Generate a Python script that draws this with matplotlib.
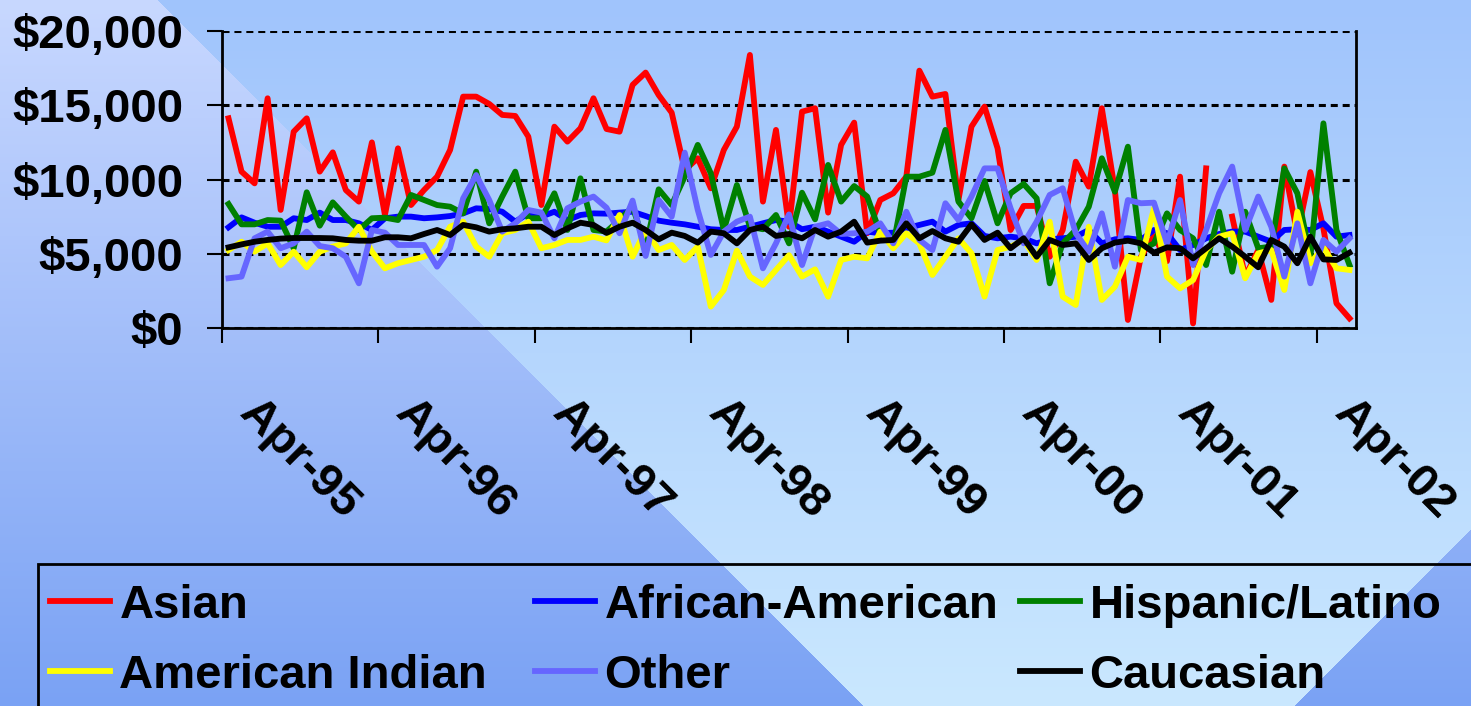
import numpy as np
import matplotlib
matplotlib.use("Agg")
import matplotlib.pyplot as plt
from matplotlib.lines import Line2D
from matplotlib.patches import Rectangle
from matplotlib.transforms import offset_copy

plt.rcParams['font.family'] = ['Liberation Sans', 'DejaVu Sans']
plt.rcParams['font.weight'] = 'bold'

nan = np.nan

# monthly values, Apr-95 .. Jun-02 (87 months)
asian = [14120, 10530, 9740, 15470, 7950, 13220, 14120, 10530, 11830, 9290, 8510, 12500, 7610, 12100, 8280,
         9290, 10190, 11990, 15580, 15580, 15090, 14350, 14280, 12890, 8280, 13560, 12550, 13450, 15470, 13400,
         13220, 16370, 17200, 15690, 14500, 10640, 11430, 9410, 11990, 13560, 18390, 8510, 13340, 6820,
         14570, 14800, 7770, 12330, 13830, 6380, 8620, 9070, 10190, 17330, 15580, 15760, 8620, 13560, 14910,
         12100, 6600, 8220, 8220, 4800, 6600, 11200, 9520, 14800, 9290, 540, 4800, 6200, 4500,
         10190, 310, 10750, nan, 7500, 3460, 5250, 1890, 10870, 6300, 10500, 6700, 1660, 650]

african_american = [6780, 7450, 7090, 6820, 6820, 7390, 7270, 7770, 7270, 7270, 7050, 6600, 7390, 7500, 7500,
                    7390, 7450, 7540, 7720, 8060, 8010, 7830, 7160, 7720, 7500, 7830, 7270, 7610, 7720, 7700,
                    7770, 7830, 7540, 7230, 7090, 6980, 6820, 6650, 6600, 6600, 6820, 7050, 7270, 7160,
                    6650, 6820, 6490, 6150, 5810, 6490, 6380, 6420, 6710, 6940, 7160, 6490, 6940, 7050, 6200,
                    6040, 6150, 6040, 5700, 5970, 6040, 6150, 6600, 5700, 5970, 6040, 5930, 6600, 6380,
                    5250, 5590, 6040, 6330, 6490, 6490, 6150, 5810, 6600, 6650, 6600, 7050, 6150, 6260]

hispanic = [8350, 6980, 6980, 7270, 7230, 5370, 9140, 6890, 8460, 7500, 6600, 7390, 7430, 7270, 8960,
            8620, 8280, 8170, 7720, 10530, 7050, 8850, 10530, 7390, 7390, 9070, 6600, 10080, 6600, 6500,
            7270, 8170, 5480, 9340, 8280, 10190, 12330, 10420, 6600, 9630, 6820, 6650, 7610, 5700,
            9110, 7320, 10980, 8510, 9560, 8850, 6380, 5590, 10190, 10190, 10460, 13340, 8510, 7390, 9900,
            7050, 9070, 9700, 8730, 3010, 5700, 6600, 8170, 11430, 9180, 12210, 5250, 5700, 7720,
            6600, 6040, 4240, 7830, 3790, 7830, 5370, 5480, 10750, 9070, 4800, 13780, 6600, 4240]

american_indian = [5250, 5810, 5140, 5700, 4240, 5140, 4090, 5140, 5480, 5700, 6820, 5140, 4020, 4360, 4580,
                   4800, 5250, 6820, 7160, 5480, 4800, 6380, 6600, 7160, 5370, 5590, 5930, 5930, 6150, 5900,
                   7610, 4800, 6600, 5250, 5590, 4580, 5480, 1440, 2560, 5210, 3460, 2900, 3910, 4900,
                   3460, 3950, 2110, 4580, 4800, 4690, 6490, 5370, 6380, 5700, 3570, 4800, 6040, 5030, 2110,
                   5250, 5480, 5930, 4580, 7160, 2110, 1550, 6820, 1890, 2780, 4800, 4580, 8060, 3460,
                   2670, 3230, 5250, 6150, 6380, 3350, 5030, 5250, 2560, 7830, 4360, 5430, 4020, 3910]

other = [3350, 3460, 6040, 6490, 5370, 5700, 6490, 5520, 5370, 4800, 3010, 6600, 6420, 5590, 5590,
         5590, 4130, 5370, 8730, 10300, 8620, 6490, 7050, 7950, 7770, 6040, 8060, 8510, 8850, 8100,
         6380, 8580, 4850, 8620, 7500, 11810, 7950, 4920, 6490, 7160, 7500, 4020, 5700, 7650,
         4240, 6820, 7050, 6330, 6380, 6490, 7050, 5700, 7830, 5930, 5250, 8400, 7270, 8850, 10750,
         10750, 8060, 5700, 7160, 8960, 9410, 6380, 5140, 7720, 4130, 8620, 8400, 8440, 5700,
         8620, 4240, 6600, 9070, 10870, 6600, 8850, 6820, 3460, 7050, 3010, 5930, 5140, 6040]

caucasian = [5430, 5630, 5810, 5930, 6020, 6060, 6060, 6060, 6040, 5930, 5880, 5880, 6110, 6110, 6040,
             6330, 6600, 6260, 6940, 6780, 6490, 6650, 6710, 6820, 6820, 6260, 6710, 7090, 6940, 6400,
             6820, 7090, 6600, 5970, 6420, 6200, 5750, 6490, 6380, 5700, 6600, 6820, 6200, 6330,
             6040, 6600, 6150, 6490, 7160, 5750, 5880, 5930, 7050, 6040, 6530, 6040, 5810, 6980, 5930,
             6420, 5370, 6040, 4800, 5930, 5590, 5700, 4580, 5370, 5750, 5880, 5700, 5070, 5430,
             5370, 4690, 5370, 6040, 5480, 4800, 4090, 5930, 5480, 4360, 6150, 4620, 4580, 5070]

series_names = ['Asian', 'African-American', 'Hispanic/Latino', 'American Indian', 'Other', 'Caucasian']
series_data = [asian, african_american, hispanic, american_indian, other, caucasian]
series_colors = ['#ff0000', '#0000ff', '#008000', '#ffff00', '#6666ff', '#000000']

year_labels = ['Apr-95', 'Apr-96', 'Apr-97', 'Apr-98', 'Apr-99', 'Apr-00', 'Apr-01', 'Apr-02']
y_ticks = [0, 5000, 10000, 15000, 20000]
y_labels = ['$0', '$5,000', '$10,000', '$15,000', '$20,000']

W, H = 1471, 706
fig = plt.figure(figsize=(W / 100, H / 100), dpi=100)

# background: diagonal light/dark gradient bands
yy, xx = np.mgrid[0:H, 0:W]
t = (yy / H)[..., None]
col_a = np.array([200, 216, 255]) * (1 - t) + np.array([122, 162, 244]) * t
col_b = np.array([160, 196, 252]) * (1 - t) + np.array([202, 232, 255]) * t
band = ((xx > 157 + yy) & (xx + yy < 2000))[..., None]
bg = np.where(band, col_b, col_a) / 255.0
bgax = fig.add_axes([0, 0, 1, 1], zorder=-10)
bgax.imshow(bg, aspect='auto', extent=[0, 1, 0, 1])
bgax.axis('off')

ax = fig.add_axes([222 / W, 1 - 328 / H, (1356 - 222) / W, (328 - 31) / H])
ax.patch.set_alpha(0)

x = np.arange(len(asian))
for name, vals, c in zip(series_names, series_data, series_colors):
    ax.plot(x, vals, color=c, lw=4.2, label=name)

ax.set_xlim(-0.5, len(asian) - 0.5)
ax.set_ylim(0, 20000)

ax.set_yticks(y_ticks)
ax.set_yticklabels(y_labels, fontsize=34, fontweight='bold')
ax.tick_params(axis='y', length=11, width=1.5, pad=17)

ax.set_xticks(np.arange(-0.5, len(asian) - 1, 12))
ax.set_xticklabels([])
ax.tick_params(axis='x', which='major', length=11, width=1.5)

# rotated month labels
lab_tr = offset_copy(ax.get_xaxis_transform(), fig=fig, x=24, y=-45, units='points')
for i, lab in zip(range(0, len(asian), 12), year_labels):
    ax.text(i, 0, lab, transform=lab_tr, rotation=-45, rotation_mode='anchor',
            ha='left', va='top', fontsize=34, fontweight='bold')

ax.grid(axis='y', color='black', lw=2.2, ls=(0, (2.3, 1.6)))
ax.set_axisbelow(True)
for s in ['left', 'bottom', 'right']:
    ax.spines[s].set_linewidth(2)
ax.spines['top'].set_visible(False)

# legend frame running off the bottom/right edge
fig.patches.append(Rectangle((38 / W, -0.1), 1.2, 0.1 + (H - 564) / H, transform=fig.transFigure,
                             fill=False, ec='black', lw=2))

handles = [Line2D([], [], color=c, lw=4.2) for c in series_colors]
col_x = [50, 535, 1020]
for j, cx in enumerate(col_x):
    idx = [j, j + 3]
    fig.legend([handles[i] for i in idx], [series_names[i] for i in idx], loc='upper left',
               bbox_to_anchor=(cx / W, 1 - 584 / H), frameon=False, fontsize=34,
               handlelength=1.27, handletextpad=0.2, labelspacing=0.55,
               borderpad=0, borderaxespad=0)

fig.savefig('out.png', dpi=100)
